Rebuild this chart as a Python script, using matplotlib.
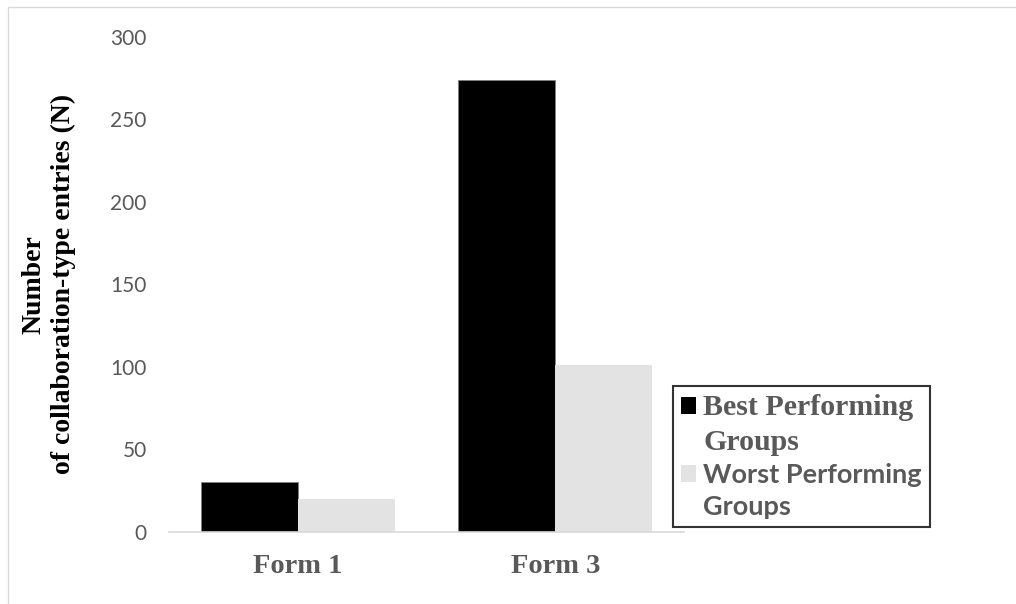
import matplotlib
matplotlib.use('Agg')
import matplotlib.pyplot as plt
from matplotlib.patches import Patch, Rectangle
import numpy as np

categories = ['Form 1', 'Form 3']
best = [30, 274]
worst = [20, 101]
series_names = ['Best Performing Groups', 'Worst Performing Groups']
yticks = [0, 50, 100, 150, 200, 250, 300]

fig = plt.figure(figsize=(10.16, 6.04), dpi=100)
ax = fig.add_axes([169/1016, 1 - 531.7/604, (684 - 169)/1016, (531.7 - 37)/604])

# light frame around the chart area
fig.add_artist(Rectangle((8/1016, -0.1), 1.2, (604 - 7)/604 + 0.1, transform=fig.transFigure,
                         fill=False, edgecolor='#D9D9D9', linewidth=1.0))

x = np.arange(len(categories))
w = 0.377
ax.bar(x - w/2, best, w, color='black', edgecolor='#7f7f7f', linewidth=0.6, label=series_names[0])
ax.bar(x + w/2, worst, w, color='#E3E3E3', linewidth=0, label=series_names[1])

ax.set_xlim(-0.5, 1.5)
ax.set_ylim(0, 300)
ax.set_yticks(yticks)
ax.set_yticklabels([str(v) for v in yticks], fontsize=15, color='#595959', family='Lato')
ax.set_xticks(x)
ax.set_xticklabels(categories, fontsize=20.5, fontweight='bold', color='#595959',
                   family='Liberation Serif')
ax.tick_params(axis='both', length=0)
ax.tick_params(axis='y', pad=16)
ax.tick_params(axis='x', pad=16)
for s in ['top', 'right', 'left']:
    ax.spines[s].set_visible(False)
ax.spines['bottom'].set_color('#D9D9D9')
ax.spines['bottom'].set_linewidth(1.2)

ax.set_ylabel('Number\nof collaboration-type entries (N)', fontsize=20, fontweight='bold',
              family='Liberation Serif', color='black', labelpad=25, linespacing=1.2)

# legend: handle sits beside the first line of each label
handles = [Patch(facecolor='black'), Patch(facecolor='none', edgecolor='none'),
           Patch(facecolor='#E3E3E3'), Patch(facecolor='none', edgecolor='none')]
labels = ['Best Performing', 'Groups', 'Worst Performing', 'Groups']
leg = fig.legend(handles, labels, loc='upper left', bbox_to_anchor=(672.7/1016, 1 - 385.7/604),
                 fontsize=20, frameon=True, fancybox=False, handlelength=0.55, handleheight=0.55,
                 handletextpad=0.25, labelspacing=0.27, borderpad=0.3, borderaxespad=0)
leg.get_frame().set_edgecolor('black')
leg.get_frame().set_linewidth(1.5)
for i, t in enumerate(leg.get_texts()):
    t.set_color('#595959')
    t.set_fontweight('bold')
    if i < 2:
        t.set_family('Liberation Serif')
        t.set_fontsize(21.5)
    else:
        t.set_family('Lato')
        t.set_fontsize(19.5)

fig.savefig('out.png', dpi=100)
